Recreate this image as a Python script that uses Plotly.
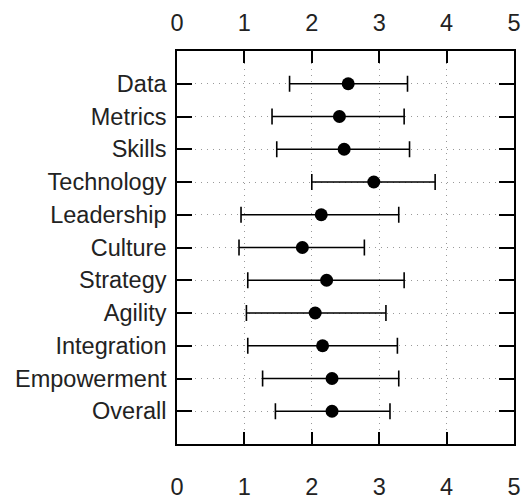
import plotly.graph_objects as go

categories = ["Data", "Metrics", "Skills", "Technology", "Leadership", "Culture",
              "Strategy", "Agility", "Integration", "Empowerment", "Overall"]
means = [2.54, 2.41, 2.48, 2.92, 2.14, 1.86, 2.22, 2.05, 2.16, 2.30, 2.30]
lower = [1.67, 1.41, 1.48, 2.00, 0.95, 0.92, 1.05, 1.03, 1.05, 1.27, 1.46]
upper = [3.42, 3.37, 3.45, 3.83, 3.29, 2.78, 3.37, 3.10, 3.27, 3.29, 3.16]
x_ticks = [0, 1, 2, 3, 4, 5]

err_plus = [u - m for u, m in zip(upper, means)]
err_minus = [m - l for m, l in zip(means, lower)]

font = dict(family="Liberation Sans, Arial, sans-serif", size=23.5, color="#222")

fig = go.Figure()
fig.add_trace(go.Scatter(
    x=means, y=categories, mode="markers",
    marker=dict(color="black", size=13),
    error_x=dict(type="data", symmetric=False, array=err_plus, arrayminus=err_minus,
                 color="black", thickness=1.6, width=8),
    showlegend=False,
))
# invisible trace to anchor top axis
fig.add_trace(go.Scatter(x=[x_ticks[0], x_ticks[-1]], y=[categories[0], categories[0]],
                         xaxis="x2", mode="markers", marker=dict(opacity=0),
                         showlegend=False, hoverinfo="skip"))

grid_dash = "1px,5px"
fig.update_layout(
    width=527, height=500,
    margin=dict(l=177, r=13, t=51, b=56),
    paper_bgcolor="white", plot_bgcolor="white",
    font=font,
    xaxis=dict(range=[0, 5], tickvals=x_ticks, ticks="inside", ticklen=12, tickwidth=1.6,
               tickcolor="black", showline=True, linecolor="black", linewidth=1.6,
               mirror="ticks", showgrid=True, gridcolor="#999", griddash=grid_dash, gridwidth=1.2,
               zeroline=False, ticklabelstandoff=21, tickfont=font, automargin=False),
    xaxis2=dict(range=[0, 5], tickvals=x_ticks, overlaying="x", side="top", ticks="",
                showline=False, showgrid=False, zeroline=False, ticklabelstandoff=14,
                tickfont=font, automargin=False),
    yaxis=dict(type="category", categoryarray=categories, range=[11, -1],
               ticks="inside", ticklen=15, tickwidth=1.6, tickcolor="black",
               showline=True, linecolor="black", linewidth=1.6, mirror="ticks",
               showgrid=True, gridcolor="#999", griddash=grid_dash, gridwidth=1.2,
               zeroline=False, ticklabelstandoff=4, tickfont=font, automargin=False),
)

fig.write_html("out.html", config={"displayModeBar": False},
               post_script="document.body.style.margin='0';document.body.style.overflow='hidden';")
